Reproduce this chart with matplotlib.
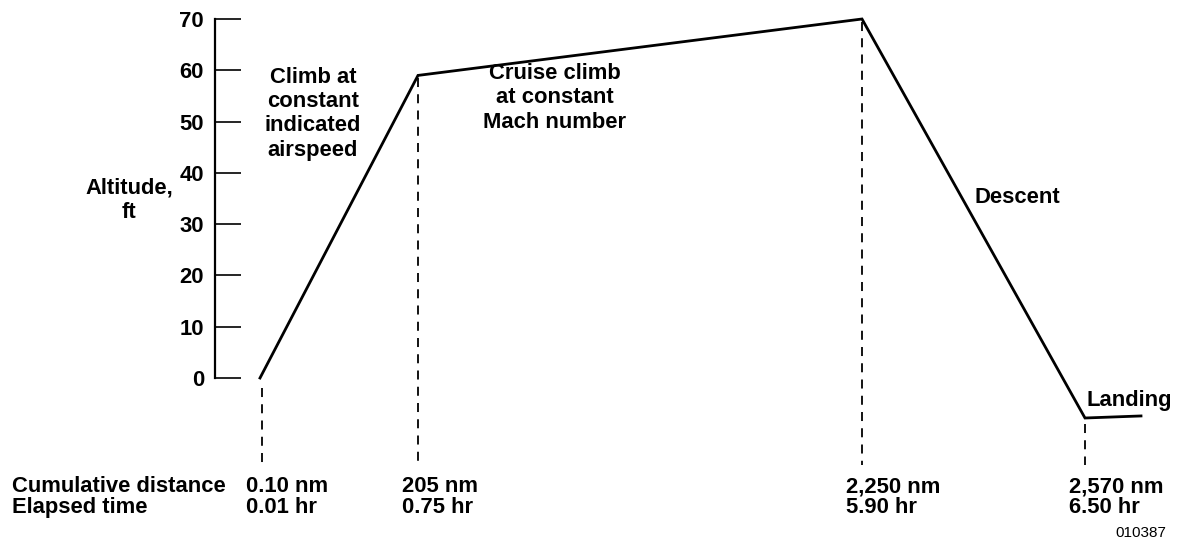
import matplotlib
matplotlib.use("Agg")
import matplotlib.pyplot as plt

plt.rcParams['font.family'] = ['Liberation Sans', 'DejaVu Sans']
plt.rcParams['font.weight'] = 'bold'

# flight profile (schematic x position, altitude)
phase_x = [45, 203, 647, 870, 926]
altitude = [0, 59, 70, -7.8, -7.4]

# event markers below the profile
event_x = [47, 203, 647, 870]
event_top = [-2, 58.5, 69.5, -9]
distance = ['0.10 nm', '205 nm', '2,250 nm', '2,570 nm']
elapsed = ['0.01 hr', '0.75 hr', '5.90 hr', '6.50 hr']

yticks = [0, 10, 20, 30, 40, 50, 60, 70]

fig = plt.figure(figsize=(11.78, 5.48), dpi=100)
ax = fig.add_axes([215/1178, 170/548, 963/1178, 359/548])
ax.set_xlim(0, 963)
ax.set_ylim(0, 70)

ax.plot(phase_x, altitude, color='black', lw=2.0, clip_on=False, solid_joinstyle='miter')
for x, top in zip(event_x, event_top):
    ax.plot([x, x], [top, -17], color='black', lw=1.3, ls=(0, (5, 4)), clip_on=False)

for s in ['top', 'right', 'bottom']:
    ax.spines[s].set_visible(False)
ax.spines['left'].set_linewidth(1.6)
ax.spines['left'].set_bounds(0, 70)
ax.set_xticks([])
ax.set_yticks(yticks)
ax.tick_params(axis='y', direction='in', length=19, width=1.2, pad=8, labelsize=15.8)

fs = 15.8
ls = 1.2
ax.text(-86, 34.7, 'Altitude,\nft', ha='center', va='center', fontsize=fs, linespacing=ls)
ax.text(98, 51.5, 'Climb at\nconstant\nindicated\nairspeed', ha='center', va='center', fontsize=fs, linespacing=ls)
ax.text(340, 54.6, 'Cruise climb\nat constant\nMach number', ha='center', va='center', fontsize=fs, linespacing=ls)
ax.text(760, 35.1, 'Descent', ha='left', va='center', fontsize=fs)
ax.text(872, -4.3, 'Landing', ha='left', va='center', fontsize=fs, clip_on=False)

ax.text(-203, -21.25, 'Cumulative distance', ha='left', va='center', fontsize=fs, clip_on=False)
ax.text(-203, -25.3, 'Elapsed time', ha='left', va='center', fontsize=fs, clip_on=False)
for x, d, t in zip(event_x, distance, elapsed):
    ax.text(x - 16, -21.25, d, ha='left', va='center', fontsize=fs, clip_on=False)
    ax.text(x - 16, -25.3, t, ha='left', va='center', fontsize=fs, clip_on=False)

fig.text(1166/1178, 1 - 533/548, '010387', ha='right', va='center', fontsize=11, fontweight='normal')

fig.savefig('out.png', dpi=100)
